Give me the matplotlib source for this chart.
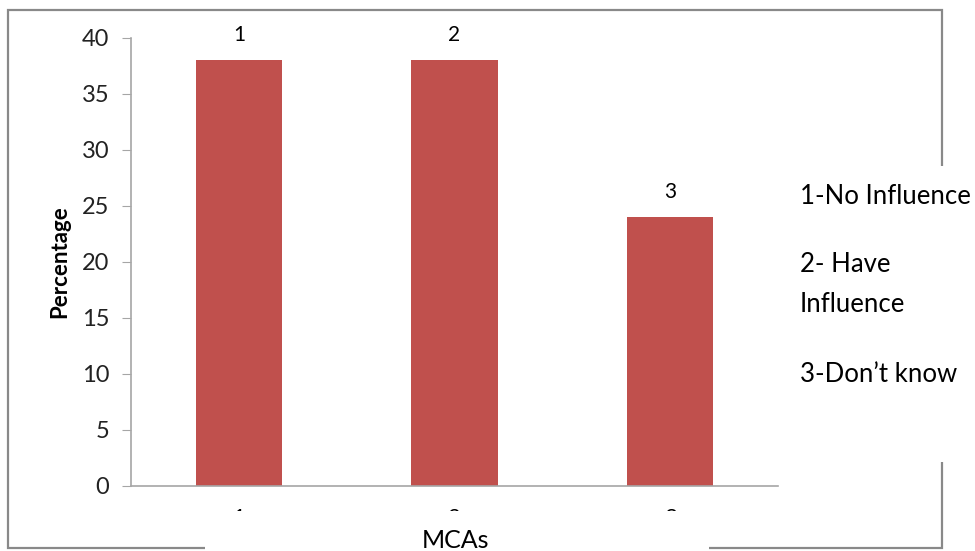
import matplotlib.pyplot as plt
from matplotlib.patches import Rectangle

categories = ['1', '2', '3']
values = [38, 38, 24]
legend_lines = ['1-No Influence', '2- Have\nInfluence', '3-Don\u2019t know']
yticks = [0, 5, 10, 15, 20, 25, 30, 35, 40]

plt.rcParams['font.family'] = ['Lato', 'DejaVu Sans']

W, H = 975, 551
fig = plt.figure(figsize=(W / 100, H / 100), dpi=100)

def fx(px):
    return px / W

def fy(py):
    return 1 - py / H

# outer chart border
fig.patches.append(Rectangle((fx(8), fy(548)), fx(942) - fx(8), fy(10) - fy(548),
                             transform=fig.transFigure, fill=False,
                             edgecolor='#898989', linewidth=1.6, zorder=1))

ax = fig.add_axes([fx(131), fy(486), fx(778) - fx(131), fy(38) - fy(486)])
x = range(len(categories))
bars = ax.bar(x, values, width=0.4, color='#C0504D', zorder=2)
ax.set_xlim(-0.5, 2.5)
ax.set_ylim(0, 40)
ax.set_yticks(yticks)
ax.set_xticks(list(x))
ax.set_xticklabels(categories, fontsize=16)

for sp in ['top', 'right']:
    ax.spines[sp].set_visible(False)
for sp in ['left', 'bottom']:
    ax.spines[sp].set_color('#A6A6A6')
    ax.spines[sp].set_linewidth(1.2)
ax.tick_params(axis='y', length=6.5, color='#A6A6A6', pad=9, labelsize=17,
               labelcolor='#222222')
ax.tick_params(axis='x', length=0, pad=16)

for i, v in enumerate(values):
    ax.annotate(categories[i], (i, v), xytext=(0, 18), textcoords='offset points',
                ha='center', va='center', fontsize=15)

fig.text(fx(60), fy(262), 'Percentage', rotation=90, ha='center', va='center',
         fontsize=16, fontweight='bold')

# white boxes hiding parts of the border and the x tick labels
fig.patches.append(Rectangle((fx(205), 0), fx(709) - fx(205), fy(511),
                             transform=fig.transFigure, facecolor='white',
                             edgecolor='none', zorder=5))
fig.patches.append(Rectangle((fx(782), fy(462)), 1 - fx(782), fy(166) - fy(462),
                             transform=fig.transFigure, facecolor='white',
                             edgecolor='none', zorder=5))

fig.text(fx(456), fy(541), 'MCAs', ha='center', va='center', fontsize=18, zorder=6)

fig.text(fx(800), fy(197), legend_lines[0], ha='left', va='center', fontsize=18.5, zorder=6)
fig.text(fx(800), fy(285), legend_lines[1], ha='left', va='center', fontsize=18.5,
         linespacing=1.75, zorder=6)
fig.text(fx(800), fy(374), legend_lines[2], ha='left', va='center', fontsize=18.5, zorder=6)

fig.savefig('out.png', dpi=100)
